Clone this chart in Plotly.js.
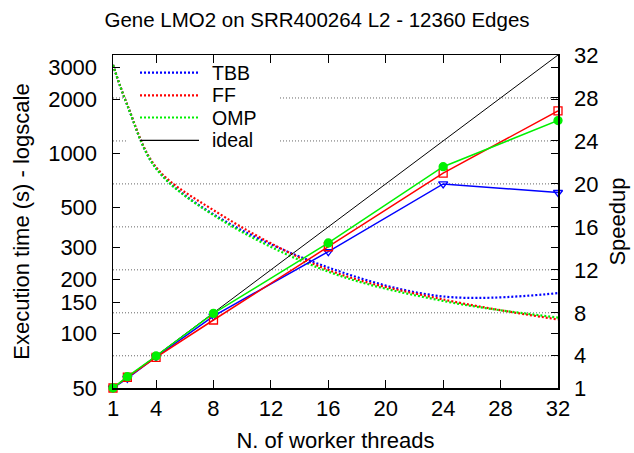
<!DOCTYPE html>
<html>
<head>
<meta charset="utf-8">
<script src="https://cdn.plot.ly/plotly-3.0.1.min.js"></script>
<style>html,body{margin:0;padding:0;background:#fff;}#chart{width:634px;height:453px;}</style>
</head>
<body>
<div id="chart"></div>
<script>
// ---- data ----
const threads = [1, 2, 4, 8, 16, 24, 32];
const timeTBB = [3100, 1850, 830, 460, 233, 161, 168];
const timeFF  = [3100, 1860, 840, 485, 226, 155, 120];
const timeOMP = [3100, 1850, 825, 455, 221, 152, 123];
const speedupTBB = [1, 1.9, 3.9, 7.7, 13.7, 20.0, 19.2];
const speedupFF  = [1, 2.0, 3.85, 7.33, 14.15, 21.0, 26.8];
const speedupOMP = [1, 2.05, 3.98, 7.95, 14.5, 21.6, 25.9];
const idealThreads = [1, 32];
const idealSpeedup = [1, 32];
const seriesNames = ['TBB', 'FF', 'OMP', 'ideal'];
const xTicks = [1, 4, 8, 12, 16, 20, 24, 28, 32];
const yTimeTicks = [50, 100, 150, 200, 300, 500, 1000, 2000, 3000];
const ySpeedTicks = [1, 4, 8, 12, 16, 20, 24, 28, 32];

// ---- styles ----
const colors = {TBB: '#0000ff', FF: '#ff0000', OMP: '#00f000', ideal: '#000000'};
const FONT = 'Liberation Sans, Arial, Helvetica, sans-serif';
const timeDash = '2px,2px';
const FS = 22;
const KEY_FS = 19.5;

function timeTrace(name, y) {
  return {x: threads, y: y, yaxis: 'y', type: 'scatter', mode: 'lines', name: name,
    line: {color: colors[name], width: 2.2, dash: timeDash, shape: 'spline', smoothing: 1},
    showlegend: false, hoverinfo: 'skip'};
}
function speedTrace(name, y, sym) {
  return {x: threads, y: y, yaxis: 'y2', type: 'scatter', mode: 'lines+markers', name: name + ' speedup',
    line: {color: colors[name], width: 1.5},
    marker: {symbol: sym, size: 8, color: colors[name], line: {color: colors[name], width: 1.3}},
    cliponaxis: false, showlegend: false};
}

const traces = [
  timeTrace('TBB', timeTBB),
  timeTrace('FF', timeFF),
  timeTrace('OMP', timeOMP),
  {x: idealThreads, y: idealSpeedup, yaxis: 'y2', type: 'scatter', mode: 'lines', name: 'ideal',
    line: {color: colors.ideal, width: 1}, showlegend: false},
  speedTrace('TBB', speedupTBB, 'triangle-down-open'),
  speedTrace('FF', speedupFF, 'square-open'),
  speedTrace('OMP', speedupOMP, 'circle')
];

// ---- grid lines (speedup axis), broken behind the key ----
const plotL = 113, plotR = 558, plotT = 55, plotB = 388;
const px = v => (v - plotL) / (plotR - plotL);
const py = v => (plotB - v) / (plotB - plotT);
const keyLeft = px(126), keyRight = px(280), keyBottomSpeed = 22;
const shapes = [];
ySpeedTicks.slice(1, -1).forEach(v => {
  const gl = {type: 'line', xref: 'paper', yref: 'y2', y0: v, y1: v, layer: 'below',
    line: {color: '#666', width: 1, dash: '1px,2px'}};
  if (v > keyBottomSpeed) {
    shapes.push(Object.assign({}, gl, {x0: 0, x1: keyLeft}));
    shapes.push(Object.assign({}, gl, {x0: keyRight, x1: 1}));
  } else {
    shapes.push(Object.assign({}, gl, {x0: 0, x1: 1}));
  }
});

// ---- key (legend) ----
const keyRowsY = [72.7, 95.3, 117.5, 140.3];
const annotations = [];
seriesNames.forEach((n, i) => {
  const yy = py(keyRowsY[i]);
  shapes.push({type: 'line', xref: 'paper', yref: 'paper', x0: px(140), x1: px(199), y0: yy, y1: yy,
    line: {color: colors[n], width: n === 'ideal' ? 1.3 : 2.2, dash: n === 'ideal' ? 'solid' : timeDash}});
  annotations.push({xref: 'paper', yref: 'paper', x: px(211), y: yy, xanchor: 'left', yanchor: 'middle',
    text: n, showarrow: false, borderpad: 0, font: {family: FONT, size: KEY_FS, color: '#000'}});
});

const axisCommon = {showline: true, linecolor: '#000', linewidth: 1.5, ticks: 'inside', tickcolor: '#000',
  tickwidth: 1, showgrid: false, zeroline: false, tickfont: {family: FONT, size: FS, color: '#000'}};

const layout = {
  width: 634, height: 453,
  margin: {l: plotL, r: 634 - plotR, t: plotT, b: 453 - plotB, pad: 0},
  paper_bgcolor: '#fff', plot_bgcolor: '#fff',
  showlegend: false,
  title: {text: 'Gene LMO2 on SRR400264 L2 - 12360 Edges', font: {family: FONT, size: 20.5, color: '#000'},
    x: 0.5, xanchor: 'center', xref: 'container', y: 1 - 20 / 453, yanchor: 'middle', yref: 'container'},
  xaxis: Object.assign({}, axisCommon, {range: [1, 32], tickvals: xTicks, ticktext: xTicks.map(String),
    mirror: 'ticks', ticklen: 8, ticklabelstandoff: 0,
    title: {text: 'N. of worker threads', font: {family: FONT, size: FS, color: '#000'}, standoff: 17}}),
  yaxis: Object.assign({}, axisCommon, {type: 'log', range: [Math.log10(50), Math.log10(3520)],
    tickvals: yTimeTicks, ticktext: yTimeTicks.map(String), mirror: 'ticks', ticklen: 7, ticklabelstandoff: 10,
    title: {text: 'Execution time (s) - logscale', font: {family: FONT, size: FS, color: '#000'}, standoff: 12}}),
  yaxis2: Object.assign({}, axisCommon, {overlaying: 'y', side: 'right', range: [1, 32],
    tickvals: ySpeedTicks, ticktext: ySpeedTicks.map(String), ticklen: 7, ticklabelstandoff: 10,
    title: {text: 'Speedup', font: {family: FONT, size: FS, color: '#000'}, standoff: 12}}),
  shapes: shapes,
  annotations: annotations
};

Plotly.newPlot('chart', traces, layout, {staticPlot: true, displayModeBar: false});
</script>
</body>
</html>
